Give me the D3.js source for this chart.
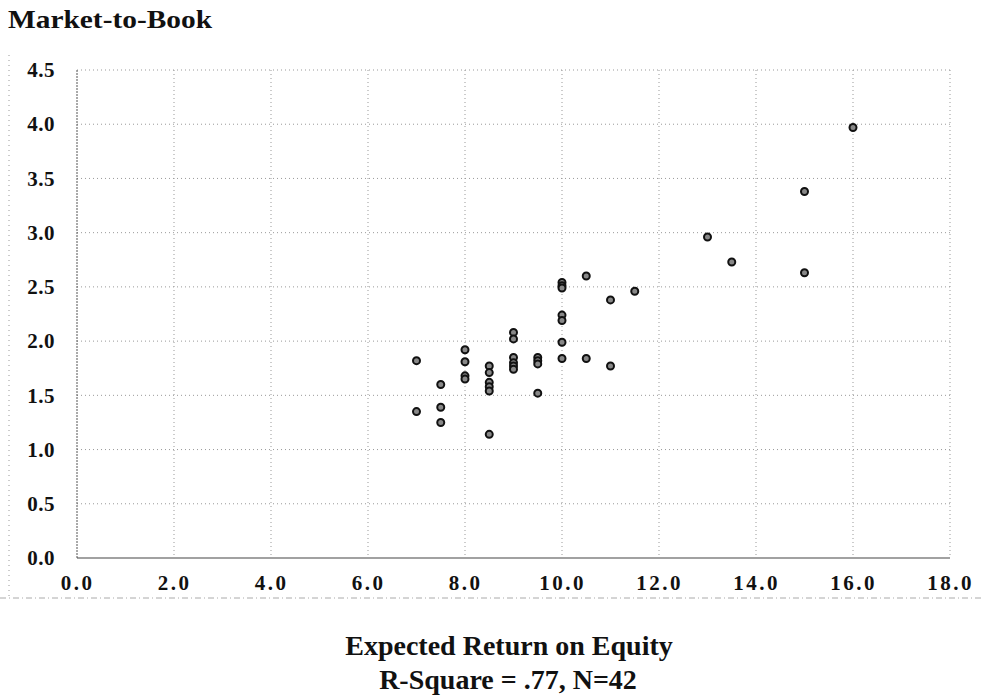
<!DOCTYPE html>
<html>
<head>
<meta charset="utf-8">
<script src="https://cdn.jsdelivr.net/npm/d3@7"></script>
<style>
  html, body { margin: 0; padding: 0; background: #fff; }
  svg { display: block; }
  text { font-family: "Liberation Serif", "Times New Roman", serif; font-weight: bold; fill: #111; }
</style>
</head>
<body>
<svg id="chart" width="984" height="698"></svg>
<script>
// ---- data ----
const roe = [7.0, 7.0,
  7.5, 7.5, 7.5,
  8.0, 8.0, 8.0, 8.0,
  8.5, 8.5, 8.5, 8.5, 8.5, 8.5,
  9.0, 9.0, 9.0, 9.0, 9.0, 9.0,
  9.5, 9.5, 9.5, 9.5,
  10.0, 10.0, 10.0, 10.0, 10.0, 10.0, 10.0,
  10.5, 10.5,
  11.0, 11.0,
  11.5,
  13.0, 13.5,
  15.0, 15.0,
  16.0];
const mtb = [1.82, 1.35,
  1.60, 1.39, 1.25,
  1.92, 1.81, 1.68, 1.65,
  1.77, 1.71, 1.62, 1.58, 1.54, 1.14,
  2.08, 2.02, 1.85, 1.80, 1.77, 1.74,
  1.85, 1.82, 1.79, 1.52,
  2.54, 2.51, 2.49, 2.24, 2.19, 1.99, 1.84,
  2.60, 1.84,
  2.38, 1.77,
  2.46,
  2.96, 2.73,
  3.38, 2.63,
  3.97];
const xTicks = [0, 2, 4, 6, 8, 10, 12, 14, 16, 18];
const yTicks = [0, 0.5, 1.0, 1.5, 2.0, 2.5, 3.0, 3.5, 4.0, 4.5];
const yTitle = "Market-to-Book";
const xTitle = "Expected Return on Equity";
const subTitle = "R-Square = .77, N=42";

// ---- layout ----
const svg = d3.select("#chart");
const pL = 77, pR = 950, pT = 70, pB = 558;
const x = d3.scaleLinear().domain([0, 18]).range([pL, pR]);
const y = d3.scaleLinear().domain([0, 4.5]).range([pB, pT]);

// outer faint frame
svg.append("line").attr("x1", 9).attr("x2", 9).attr("y1", 55).attr("y2", 598)
  .attr("stroke", "#999").attr("stroke-width", 1).attr("stroke-dasharray", "1,4");
svg.append("line").attr("x1", 0).attr("x2", 984).attr("y1", 598).attr("y2", 598)
  .attr("stroke", "#aaa").attr("stroke-width", 1).attr("stroke-dasharray", "6,3,1,3");

// grid
const g = svg.append("g");
g.selectAll(".hg").data(yTicks.filter(d => d > 0)).join("line")
  .attr("x1", pL).attr("x2", pR)
  .attr("y1", d => y(d)).attr("y2", d => y(d))
  .attr("stroke", "#999").attr("stroke-width", 1).attr("stroke-dasharray", "1,3");
g.selectAll(".vg").data(xTicks.filter(d => d > 0)).join("line")
  .attr("x1", d => x(d)).attr("x2", d => x(d))
  .attr("y1", pT).attr("y2", pB)
  .attr("stroke", "#999").attr("stroke-width", 1).attr("stroke-dasharray", "1,3");

// axes lines
svg.append("line").attr("x1", pL).attr("x2", pL).attr("y1", pT).attr("y2", pB)
  .attr("stroke", "#555").attr("stroke-width", 1).attr("stroke-dasharray", "2,1");
svg.append("line").attr("x1", pL).attr("x2", pR).attr("y1", pB).attr("y2", pB)
  .attr("stroke", "#444").attr("stroke-width", 1.2);

// axes via d3 (labels only)
const yAxis = d3.axisLeft(y).tickValues(yTicks).tickFormat(d3.format(".1f")).tickSize(0).tickPadding(22);
const ya = svg.append("g").attr("transform", `translate(${pL},0)`).call(yAxis);
ya.select(".domain").remove();
ya.selectAll("text").style("font-size", "21px").style("font-family", "'Liberation Serif', serif")
  .style("font-weight", "bold").style("letter-spacing", "0.5px").attr("fill", "#111");

const xAxis = d3.axisBottom(x).tickValues(xTicks).tickFormat(d3.format(".1f")).tickSize(0).tickPadding(17);
const xa = svg.append("g").attr("transform", `translate(0,${pB})`).call(xAxis);
xa.select(".domain").remove();
xa.selectAll("text").style("font-size", "21px").style("font-family", "'Liberation Serif', serif")
  .style("font-weight", "bold").style("letter-spacing", "2.5px").attr("fill", "#111");

// points
svg.append("g").selectAll("circle").data(roe.map((d, i) => [d, mtb[i]])).join("circle")
  .attr("cx", d => x(d[0])).attr("cy", d => y(d[1])).attr("r", 3.5)
  .attr("fill", "#888").attr("stroke", "#111").attr("stroke-width", 2);

// titles
svg.append("text").attr("x", 8).attr("y", 28).style("font-size", "25px")
  .attr("textLength", 204).attr("lengthAdjust", "spacingAndGlyphs").text(yTitle);
svg.append("text").attr("x", 509).attr("y", 655).attr("text-anchor", "middle").style("font-size", "28px").text(xTitle);
svg.append("text").attr("x", 508).attr("y", 689).attr("text-anchor", "middle").style("font-size", "28px").text(subTitle);
</script>
</body>
</html>
